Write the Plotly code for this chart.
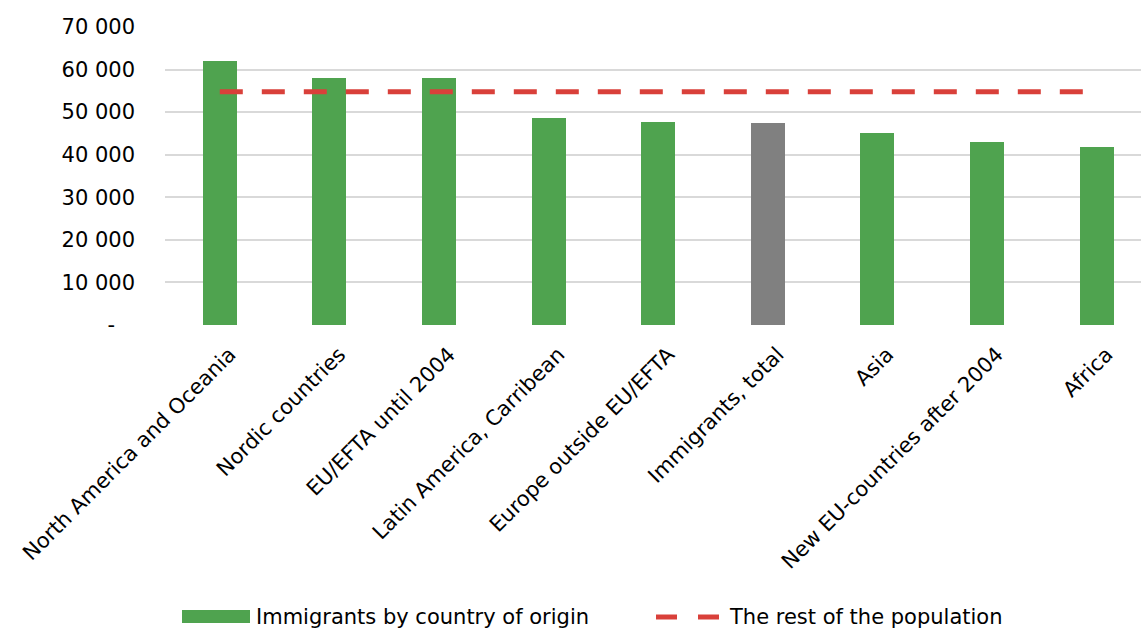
import plotly.graph_objects as go

# Income by region of origin, with the rest of the population as reference
categories = [
    "North America and Oceania",
    "Nordic countries",
    "EU/EFTA until 2004",
    "Latin America, Carribean",
    "Europe outside EU/EFTA",
    "Immigrants, total",
    "Asia",
    "New EU-countries after 2004",
    "Africa",
]
immigrant_values = [61900, 58000, 58000, 48700, 47600, 47400, 45000, 42900, 41800]
rest_of_population = [54800] * len(categories)

y_tick_values = [0, 10000, 20000, 30000, 40000, 50000, 60000, 70000]
y_tick_labels = ["-\u00a0\u00a0\u00a0", "10 000", "20 000", "30 000", "40 000",
                 "50 000", "60 000", "70 000"]

GREEN = "#4FA34F"
GREY = "#808080"
RED = "#D9403A"
FONT = "DejaVu Sans"
FSIZE = 21

W, H = 1141, 630
M_L, M_R, M_T, M_B = 165, 0, 27, 305

bar_colors = [GREY if c == "Immigrants, total" else GREEN for c in categories]

fig = go.Figure()
fig.add_trace(go.Bar(
    x=list(range(len(categories))),
    y=immigrant_values,
    marker=dict(color=bar_colors, line=dict(width=0)),
    width=0.31,
    name="Immigrants by country of origin",
    showlegend=False,
))
fig.add_trace(go.Scatter(
    x=list(range(len(categories))),
    y=rest_of_population,
    mode="lines",
    line=dict(color=RED, width=5, dash="23px,19px"),
    name="The rest of the population",
    showlegend=False,
))


def px_x(px):
    return (px - M_L) / (W - M_L - M_R)


def px_y(py):
    return (H - M_B - py) / (H - M_T - M_B)


# Legend drawn as paper-anchored shapes and text
shapes = [
    dict(type="rect", xref="paper", yref="paper",
         x0=px_x(182), x1=px_x(250), y0=px_y(623), y1=px_y(610),
         fillcolor=GREEN, line=dict(width=0)),
    dict(type="line", xref="paper", yref="paper",
         x0=px_x(656), x1=px_x(677), y0=px_y(617), y1=px_y(617),
         line=dict(color=RED, width=5)),
    dict(type="line", xref="paper", yref="paper",
         x0=px_x(698), x1=px_x(719), y0=px_y(617), y1=px_y(617),
         line=dict(color=RED, width=5)),
]
annotations = [
    dict(text="Immigrants by country of origin", xref="paper", yref="paper",
         x=px_x(254), y=px_y(617), xanchor="left", yanchor="middle",
         showarrow=False, font=dict(family=FONT, size=FSIZE, color="#000000")),
    dict(text="The rest of the population", xref="paper", yref="paper",
         x=px_x(727), y=px_y(617), xanchor="left", yanchor="middle",
         showarrow=False, font=dict(family=FONT, size=FSIZE, color="#000000")),
]

fig.update_layout(
    width=W, height=H,
    margin=dict(l=M_L, r=M_R, t=M_T, b=M_B, pad=0),
    paper_bgcolor="white",
    plot_bgcolor="white",
    font=dict(family=FONT, size=FSIZE, color="#000000"),
    bargap=0,
    shapes=shapes,
    annotations=annotations,
    showlegend=False,
)
fig.update_xaxes(
    range=[-0.5, 8.405],
    tickmode="array",
    tickvals=list(range(len(categories))),
    ticktext=categories,
    tickangle=-45,
    showgrid=False,
    zeroline=False,
    showline=False,
    ticks="",
    ticklabelstandoff=12,
    ticklabelshift=10,
    tickfont=dict(family=FONT, size=FSIZE, color="#000000"),
)
fig.update_yaxes(
    range=[0, 70000],
    tickmode="array",
    tickvals=y_tick_values,
    ticktext=y_tick_labels,
    showgrid=True,
    gridcolor="#D9D9D9",
    gridwidth=1.5,
    zeroline=False,
    showline=False,
    ticks="",
    ticklabelstandoff=29,
    tickfont=dict(family=FONT, size=FSIZE, color="#000000"),
)

fig.write_html("out.html")
